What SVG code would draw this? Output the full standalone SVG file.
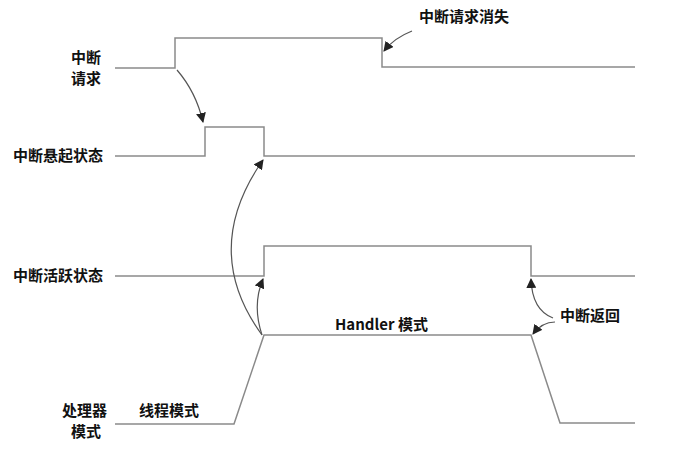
<svg xmlns="http://www.w3.org/2000/svg" width="676" height="452" viewBox="0 0 676 452">
<style>
.sig{fill:none;stroke:#8a8a8a;stroke-width:1.5}
.arr{fill:none;stroke:#555;stroke-width:1.2;marker-end:url(#ah)}
text{font-family:"Noto Sans CJK SC","Noto Sans",sans-serif;font-size:15px;font-weight:bold;fill:#111}
.r{text-anchor:end}
</style>
<defs>
<marker id="ah" markerWidth="10" markerHeight="10" refX="9" refY="5" orient="auto" markerUnits="userSpaceOnUse">
<path d="M0,0 L10,5 L0,10 Z" fill="#222"/>
</marker>
</defs>
<rect width="676" height="452" fill="#fff"/>
<g id="sig-request">
<polyline class="sig" points="115,68 175,68 175,38 382,38 382,67 635,67"/>
<text class="r" x="101" y="63">中断</text>
<text class="r" x="101" y="84">请求</text>
</g>
<g id="sig-pending">
<polyline class="sig" points="115,156 205,156 205,127 264,127 264,156 635,156"/>
<text class="r" x="103" y="161">中断悬起状态</text>
</g>
<g id="sig-active">
<polyline class="sig" points="115,276 264,276 264,246 531,246 531,276 635,276"/>
<text class="r" x="103" y="281">中断活跃状态</text>
</g>
<g id="sig-mode">
<polyline class="sig" points="115,424 234,424 264,335 531,335 560,423 635,423"/>
<text class="r" x="107" y="416">处理器</text>
<text class="r" x="101" y="437">模式</text>
<text x="139" y="416">线程模式</text>
<text x="335" y="330">Handler 模式</text>
</g>
<g id="lbl-disappear">
<text x="419" y="22">中断请求消失</text>
</g>
<g id="lbl-return">
<text x="560" y="321">中断返回</text>
</g>
<g id="connectors">
<path class="arr" d="M177,70 Q196,92 203,122"/>
<path class="arr" d="M412,31 Q394,38 384,51"/>
<path class="arr" d="M262,335 Q200,250 263,160"/>
<path class="arr" d="M262,335 Q252,305 263,279"/>
<path class="arr" d="M553,318 Q532,310 531,279"/>
<path class="arr" d="M555,322 Q542,322 533,334"/>
</g>
</svg>
